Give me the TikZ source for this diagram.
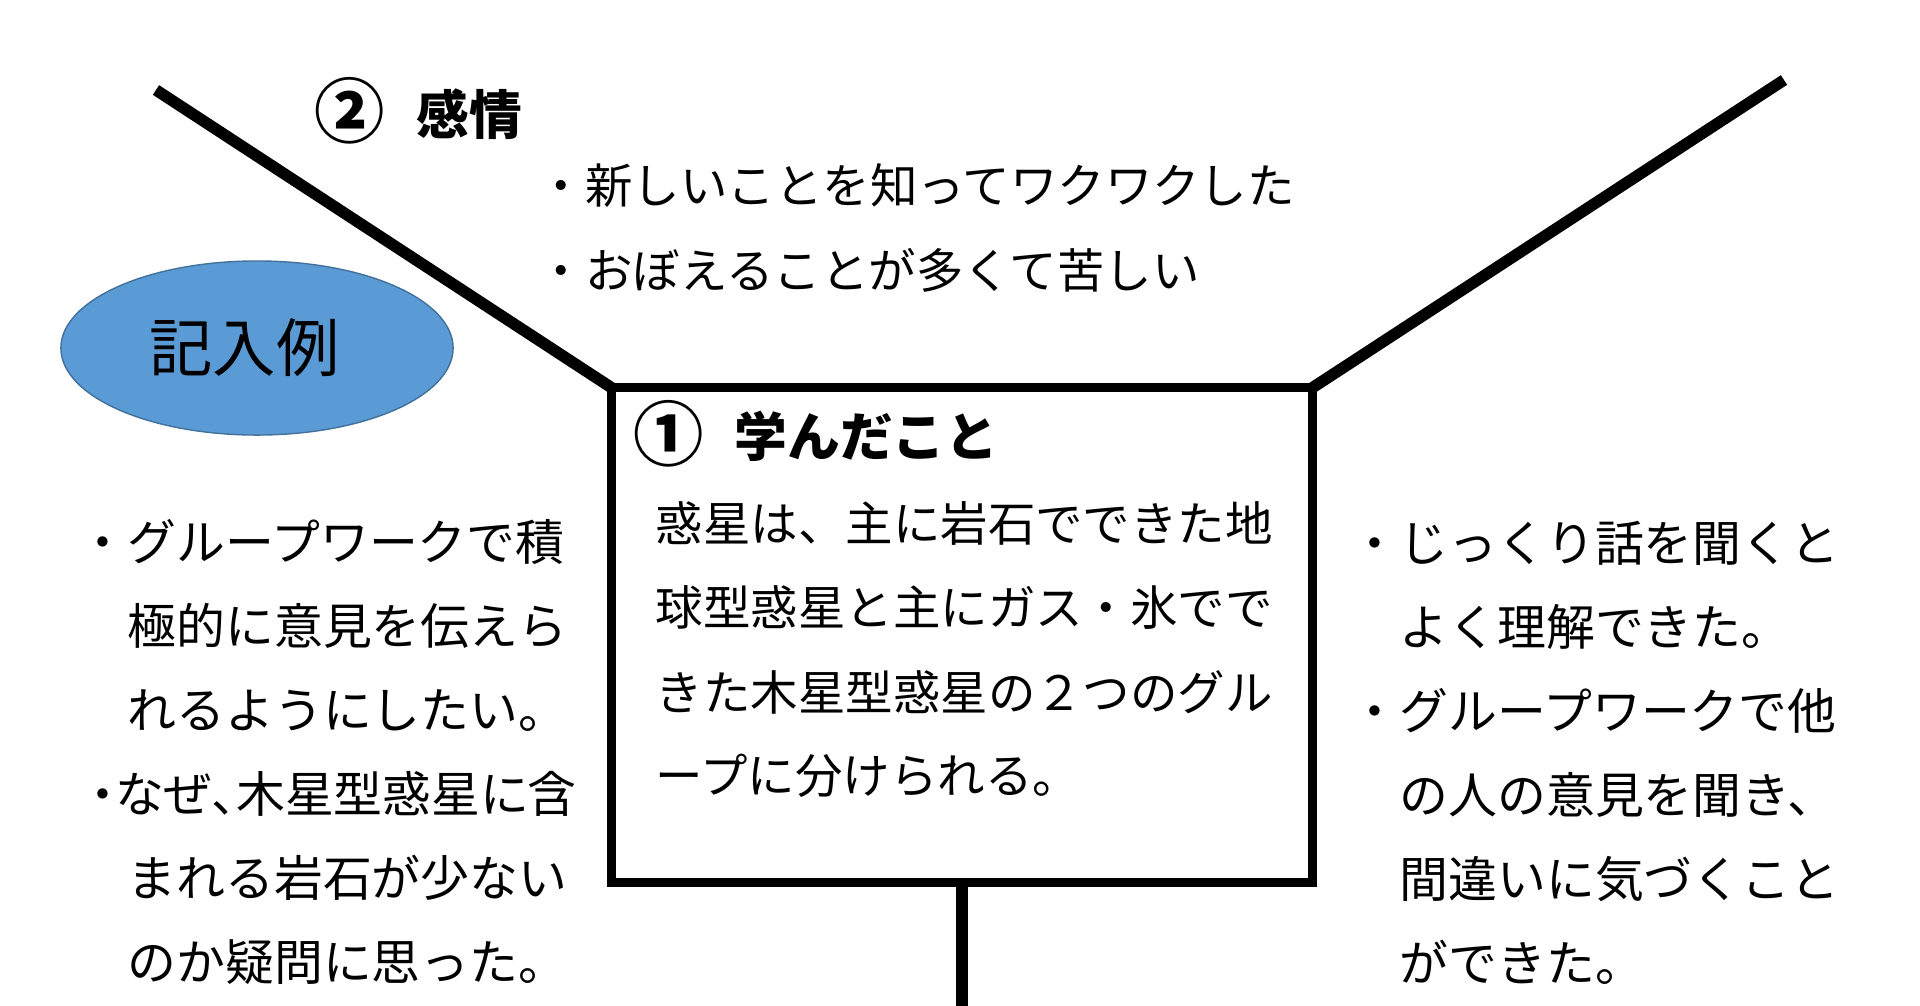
\documentclass[tikz,border=0pt]{standalone}
\usepackage{fontspec}
\newfontfamily\jp{Noto Sans CJK JP}
\newfontfamily\jpp[RawFeature=+palt]{Noto Sans CJK JP}
\usetikzlibrary{positioning, shapes.geometric}
\definecolor{memo}{RGB}{91,155,213}
\definecolor{memoline}{RGB}{65,113,156}
\tikzset{
    arm/.style={draw, line width=1.15mm},
    txt/.style={anchor=base west, inner sep=0pt, font=\jp\fontsize{13.5}{16}\selectfont},
    side/.style={txt, font=\jp\fontsize{13.9}{16}\selectfont},
    headtxt/.style={anchor=base west, inner sep=0pt, font=\jp\bfseries\fontsize{15}{18}\selectfont},
    numtxt/.style={anchor=base west, inner sep=0pt, font=\jp\bfseries\fontsize{20}{22}\selectfont}
}

\begin{document}
\begin{tikzpicture}[x=0.01cm, y=-0.01cm]
        \useasboundingbox (0,0) rectangle (1920,1005);
        % center box
        \node[draw, line width=0.9mm, minimum width=7cm, minimum height=4.94cm, outer sep=0pt] (learn) at (962,635) {};
        \coordinate (lt) at (156,90);
        \coordinate (rt) at (1784,80);
        \coordinate (foot) at (962,1015);
        \draw[arm] (lt) -- (learn.north west);
        \draw[arm] (learn.north east) -- (rt);
        \draw[arm] (learn.south) -- (foot);

        \node[ellipse, draw=memoline, fill=memo, minimum width=3.92cm, minimum height=1.74cm, inner sep=0pt, font=\jp\fontsize{18}{20}\selectfont] (ex) at (257,348) {記入例\hspace*{0.25cm}};

        % 2
        \node[numtxt] (n2) at (314,137) {②};
        \node[headtxt] (emo) at (416,134) {感情};
        \node[txt] (e1) at (537,203) {・新しいことを知ってワクワクした};
        \node[txt] (e2) at (537,288) {・おぼえることが多くて苦しい};

        % 1
        \node[numtxt] (n1) at (633,460) {①};
        \node[headtxt] (got) at (734,456) {学んだこと};
        \node[txt] (g1) at (655,541) {惑星は、主に岩石でできた地};
        \node[txt] (g2) at (655,625) {球型惑星と主にガス・氷でで};
        \node[txt] (g3) at (655,710) {きた木星型惑星の２つのグル};
        \node[txt] (g4) at (655,793) {ープに分けられる。};

        % left
        \node[side] (l1) at (78,560) {・グループワークで積};
        \node[side] (l2) at (78,644) {　極的に意見を伝えら};
        \node[side] (l3) at (78,728) {　れるようにしたい。};
        \node[side, font=\jpp\fontsize{13.9}{16}\selectfont] (l4) at (90,812) {・なぜ、木星型惑星に含};
        \node[side] (l5) at (78,896) {　まれる岩石が少ない};
        \node[side] (l6) at (78,980) {　のか疑問に思った。};

        % right
        \node[side] (r1) at (1350,561) {・じっくり話を聞くと};
        \node[side] (r2) at (1350,645) {　よく理解できた。};
        \node[side] (r3) at (1350,729) {・グループワークで他};
        \node[side] (r4) at (1350,813) {　の人の意見を聞き、};
        \node[side] (r5) at (1350,897) {　間違いに気づくこと};
        \node[side] (r6) at (1350,981) {　ができた。};
\end{tikzpicture}
\end{document}
